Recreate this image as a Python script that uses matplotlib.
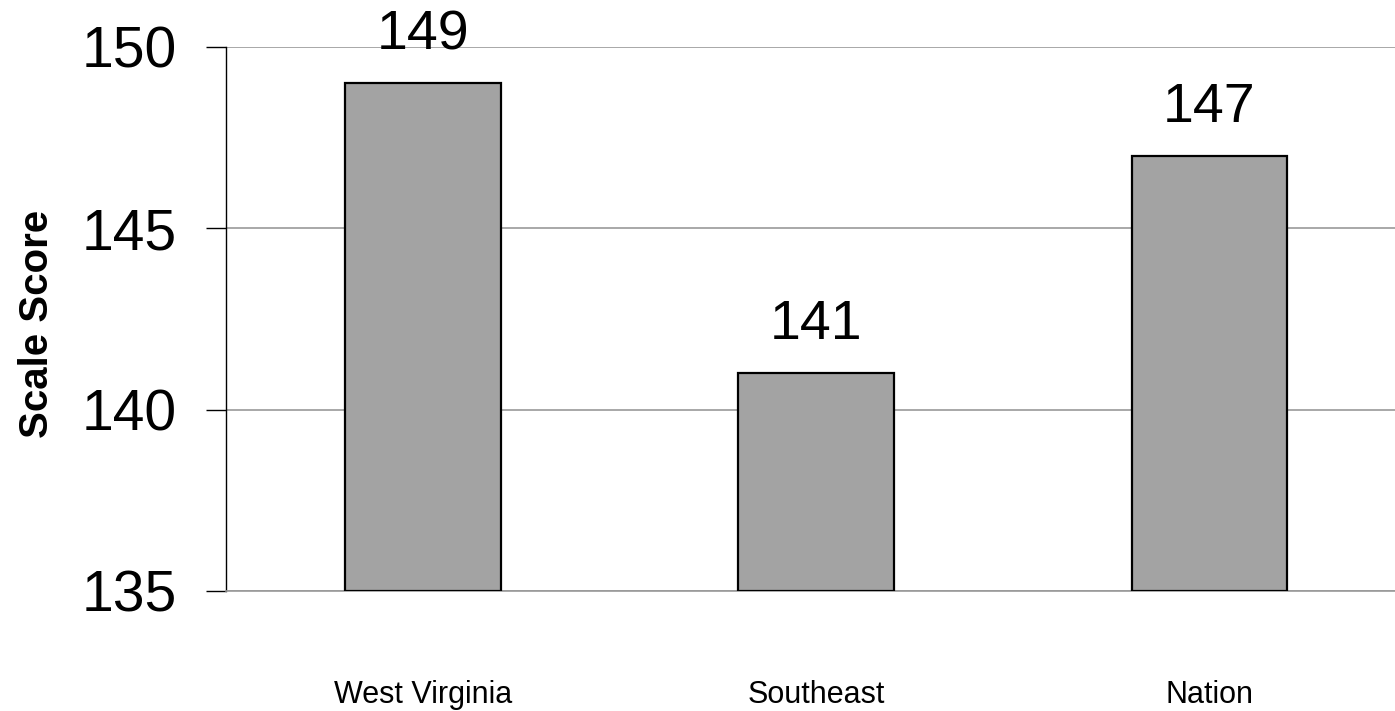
import matplotlib.pyplot as plt
import numpy as np

plt.rcParams['font.family'] = ['Liberation Sans', 'DejaVu Sans']

# data
categories = ['West Virginia', 'Southeast', 'Nation']
scores = [149, 141, 147]
yticks = [135, 140, 145, 150]

fig = plt.figure(figsize=(13.95, 7.11), dpi=100)
# axes runs a little past the right edge, like the original
ax = fig.add_axes([0.162, 0.1688, 0.846, 0.7651])

x = np.arange(len(categories))
base = 135
ax.bar(x, np.array(scores) - base, bottom=base, width=0.396,
       color='#a3a3a3', edgecolor='black', linewidth=1.6, zorder=3)

for xi, v in zip(x, scores):
    ax.annotate(str(v), (xi, v), xytext=(0, 16), textcoords='offset points',
                ha='center', va='bottom', fontsize=40, zorder=4)

ax.set_xlim(-0.5, 2.5)
ax.set_ylim(135, 150)
ax.set_yticks(yticks)
ax.set_yticklabels([str(t) for t in yticks], fontsize=41)
ax.yaxis.grid(True, color='#999999', linewidth=1.2, zorder=0)
ax.set_axisbelow(True)

ax.set_xticks(x)
ax.set_xticklabels(categories, fontsize=22)
ax.tick_params(axis='x', length=0, pad=64)
ax.tick_params(axis='y', length=14.4, width=1, pad=21, direction='out')

for s in ['top', 'right']:
    ax.spines[s].set_visible(False)
ax.spines['bottom'].set_color('#999999')
ax.spines['bottom'].set_linewidth(1.2)
ax.spines['left'].set_linewidth(1)

ax.set_ylabel('Scale Score', fontsize=29, fontweight='bold')
ax.yaxis.set_label_coords(-0.144, 0.49)

plt.savefig('out.png', dpi=100)
